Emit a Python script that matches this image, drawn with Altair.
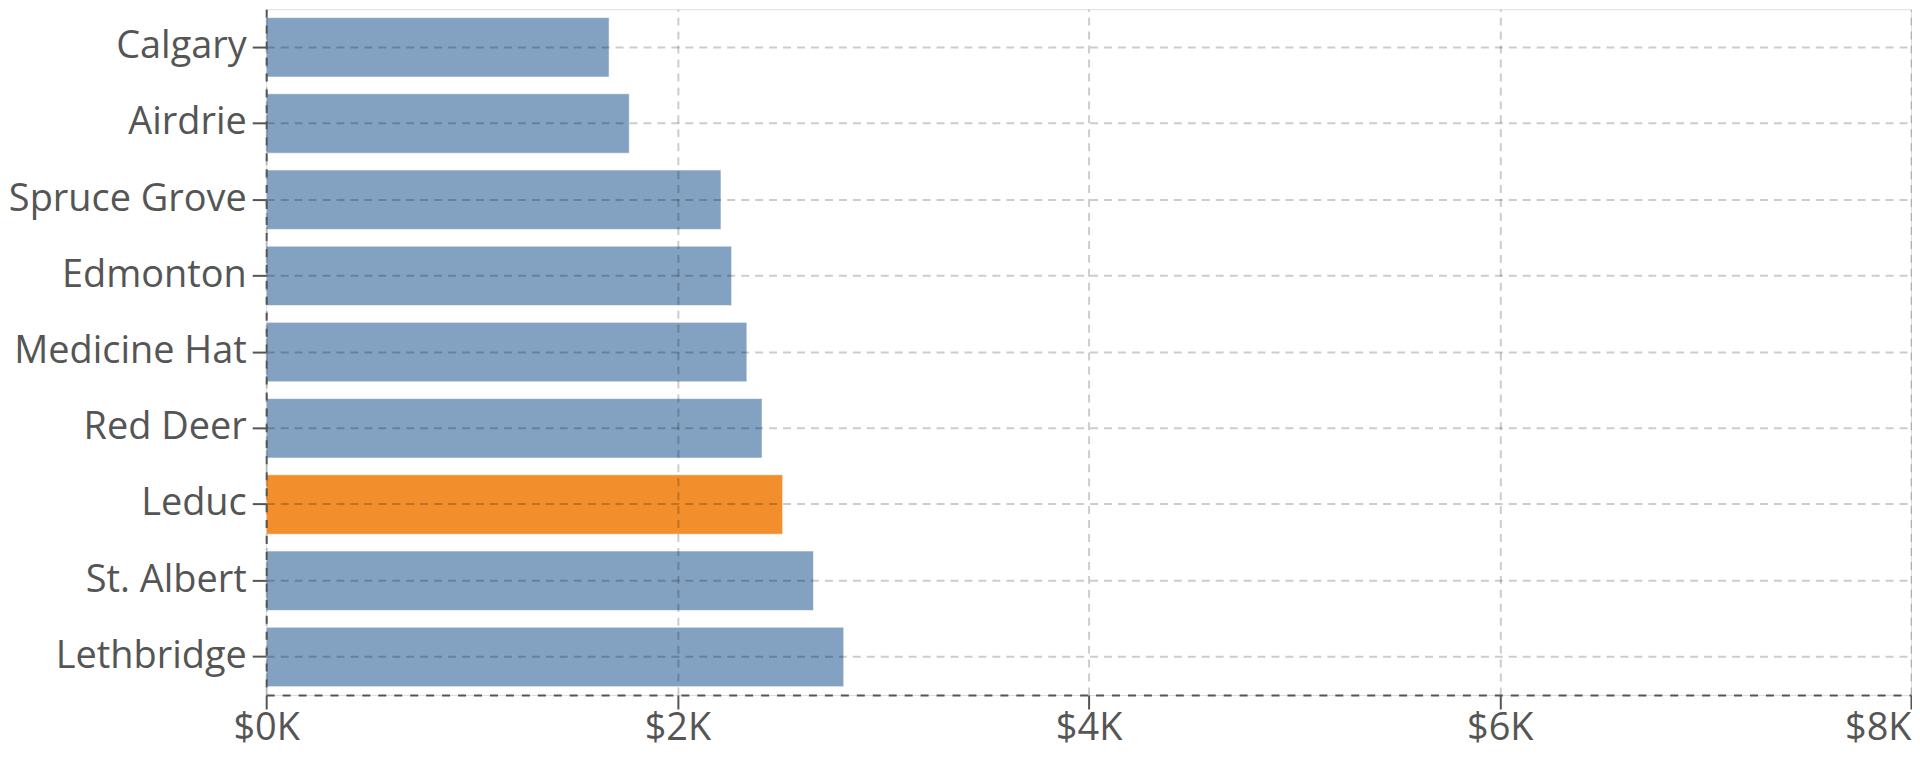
import altair as alt
import pandas as pd

cities = ["Calgary", "Airdrie", "Spruce Grove", "Edmonton", "Medicine Hat",
          "Red Deer", "Leduc", "St. Albert", "Lethbridge"]
values = [1668, 1766, 2212, 2264, 2338, 2412, 2512, 2662, 2809]
highlight_city = "Leduc"
x_ticks = [0, 2000, 4000, 6000, 8000]

df = pd.DataFrame({
    "city": cities,
    "value": values,
    "group": ["highlight" if c == highlight_city else "other" for c in cities],
})

FONT = "Open Sans"
TEXT = "#555555"

bars = alt.Chart(df).mark_bar(stroke="white", strokeWidth=1, strokeOpacity=0.6).encode(
    x=alt.X("value:Q",
            scale=alt.Scale(domain=[0, 8000], nice=False),
            axis=alt.Axis(
                values=x_ticks,
                labelExpr="'$' + format(datum.value / 1000, 'd') + 'K'",
                labelAlign=alt.expr("datum.value == 8000 ? 'right' : 'center'"),
                title=None, grid=True, gridColor="black", gridOpacity=0.2,
                gridDash=[8, 6], gridWidth=2,
                domainColor=TEXT, domainDash=[8, 8], domainWidth=2,
                tickColor=TEXT, tickSize=14, tickWidth=2,
                labelFont=FONT, labelFontSize=38, labelColor=TEXT,
                labelPadding=1, labelLimit=0, zindex=1)),
    y=alt.Y("city:N", sort=cities,
            scale=alt.Scale(paddingInner=0.22, paddingOuter=0.11),
            axis=alt.Axis(
                title=None, grid=True, gridColor="black", gridOpacity=0.2,
                gridDash=[8, 6], gridWidth=2, bandPosition=0.5,
                domainColor=TEXT, domainDash=[8, 8], domainWidth=2,
                tickColor=TEXT, tickSize=14, tickWidth=2,
                labelFont=FONT, labelFontSize=38, labelColor=TEXT,
                labelPadding=6, labelLimit=0, zindex=1)),
    color=alt.Color("group:N",
                    scale=alt.Scale(domain=["other", "highlight"],
                                    range=["#83a2c2", "#f28e2b"]),
                    legend=None),
)

chart = bars.properties(
    width=1650, height=688,
    padding={"left": 0, "top": 0, "right": 0, "bottom": 6},
).configure_view(
    stroke="#cccccc", strokeDash=[8, 6], strokeWidth=2
).configure(background="white")

chart.save("out.html", embed_options={"renderer": "svg", "actions": False})
